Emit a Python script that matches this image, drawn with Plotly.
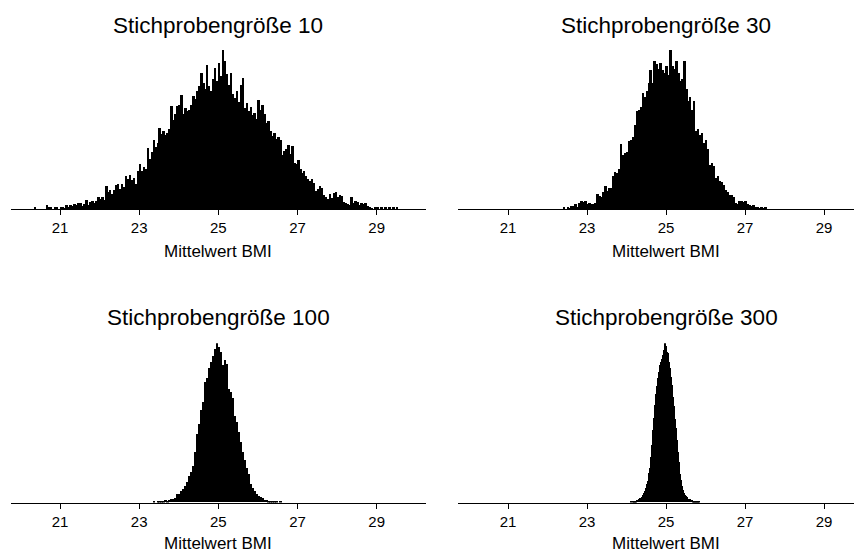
import numpy as np
import plotly.graph_objects as go

# ---------------- data (counts, arbitrary units) ----------------
titles = ["Stichprobengröße 10", "Stichprobengröße 30", "Stichprobengröße 100", "Stichprobengröße 300"]
x_label = "Mittelwert BMI"
tick_vals = [21, 23, 25, 27, 29]

# n = 10 : bins of 0.05 starting at 20.30
n10_start, n10_width = 20.30, 0.05
n10_counts = [
    0, 2, 0, 0, 0, 0, 0, 4, 2, 2,
    0, 2, 2, 0, 2, 2, 1, 4, 2, 4,
    3, 5, 4, 6, 6, 3, 5, 9, 4, 7,
    8, 6, 8, 12, 10, 12, 9, 23, 17, 19,
    15, 19, 24, 25, 20, 25, 22, 33, 30, 34,
    29, 31, 25, 38, 45, 38, 42, 40, 61, 50,
    57, 69, 62, 66, 81, 75, 78, 74, 76, 80,
    103, 89, 95, 103, 104, 114, 95, 101, 98, 99,
    104, 113, 110, 118, 123, 136, 126, 120, 144, 123,
    118, 130, 141, 128, 146, 133, 159, 148, 135, 124,
    136, 115, 111, 118, 107, 124, 131, 101, 106, 98,
    102, 94, 96, 90, 109, 99, 104, 95, 86, 88,
    78, 73, 76, 70, 72, 69, 54, 58, 60, 64,
    55, 63, 46, 45, 49, 40, 36, 38, 33, 30,
    28, 30, 26, 18, 20, 23, 21, 14, 12, 10,
    15, 11, 16, 17, 12, 14, 13, 7, 6, 5,
    4, 12, 6, 8, 7, 4, 6, 5, 6, 3,
    2, 1, 0, 2, 2, 0, 2, 0, 2, 0,
    2, 0, 2, 0, 2, 0,
]

# n = 30 : bins of 0.05 starting at 22.40
n30_start, n30_width = 22.40, 0.05
n30_counts = [
    2, 0, 2, 1, 3, 3, 5, 2, 6, 8,
    7, 8, 5, 6, 5, 5, 6, 15, 13, 12,
    17, 23, 18, 21, 21, 33, 37, 36, 40, 65,
    54, 56, 57, 68, 69, 72, 84, 98, 99, 102,
    116, 112, 118, 126, 139, 126, 148, 145, 140, 146,
    139, 136, 143, 134, 159, 143, 140, 148, 136, 128,
    130, 148, 120, 108, 112, 99, 108, 78, 80, 74,
    76, 66, 69, 60, 44, 46, 43, 31, 33, 28,
    27, 24, 19, 17, 14, 14, 12, 6, 5, 8,
    8, 7, 8, 5, 4, 3, 4, 2, 2, 1,
    2, 1, 2,
]

# n = 100 : bins of 0.05 starting at 23.35
n100_start, n100_width = 23.35, 0.05
n100_counts = [
    1, 0, 1, 1, 1, 1, 2, 1, 2, 3,
    3, 4, 8, 8, 11, 13, 16, 20, 26, 30,
    36, 50, 68, 78, 92, 100, 120, 124, 134, 140,
    146, 153, 159, 155, 150, 137, 142, 138, 113, 110,
    104, 86, 80, 70, 60, 50, 42, 34, 28, 18,
    14, 11, 8, 6, 5, 4, 2, 2, 1, 1,
    1, 1, 1, 0, 1,
]

# n = 300 : bins of 0.025 starting at 24.10
n300_start, n300_width = 24.10, 0.025
n300_counts = [
    1, 0, 1, 1, 1, 1, 2, 2, 3, 4,
    4, 5, 7, 9, 11, 14, 18, 21, 24, 29,
    34, 45, 57, 72, 84, 97, 108, 116, 124, 130,
    137, 140, 143, 147, 152, 159, 156, 150, 149, 140,
    134, 125, 117, 105, 96, 83, 74, 62, 50, 40,
    28, 22, 16, 12, 9, 7, 6, 5, 3, 3,
    3, 2, 2, 1, 1, 1, 1, 1, 1, 1,
]

panels = [
    (n10_start, n10_width, n10_counts),
    (n30_start, n30_width, n30_counts),
    (n100_start, n100_width, n100_counts),
    (n300_start, n300_width, n300_counts),
]

# ---------------- layout geometry ----------------
# the page adds an 8px body margin, so the figure is drawn 8px smaller
W, H = 854, 548
FONT = "Liberation Sans, Arial, sans-serif"

x_domains = [[3 / W, 418 / W], [450.3 / W, 1.0], [3 / W, 418 / W], [450.3 / W, 1.0]]
x_ranges = [[19.762, 30.245], [19.74, 29.96], [19.762, 30.245], [19.74, 29.96]]
y_domains = [
    [1 - 201 / H, 1 - 42 / H],
    [1 - 201 / H, 1 - 42 / H],
    [1 - 494.5 / H, 1 - 335.3 / H],
    [1 - 494.5 / H, 1 - 335.3 / H],
]
title_y = [17.5, 17.5, 309.5, 309.5]
xlab_y = [243.5, 243.5, 535.0, 535.0]

fig = go.Figure()
layout = dict(
    width=W, height=H,
    margin=dict(l=0, r=0, t=0, b=0),
    paper_bgcolor="white", plot_bgcolor="white",
    showlegend=False, bargap=0,
    font=dict(family=FONT, color="black"),
)
annotations = []
for i, (start, width, counts) in enumerate(panels):
    k = "" if i == 0 else str(i + 1)
    centers = start + width * (np.arange(len(counts)) + 0.5)
    fig.add_trace(go.Bar(
        x=centers, y=counts, width=width,
        marker=dict(color="black", line=dict(width=0)),
        xaxis="x" + k, yaxis="y" + k, hoverinfo="skip",
    ))
    layout["xaxis" + k] = dict(
        domain=x_domains[i], range=x_ranges[i], anchor="y" + k,
        showgrid=False, zeroline=False,
        showline=True, linecolor="black", linewidth=1,
        ticks="outside", ticklen=5, tickwidth=1, tickcolor="black",
        tickvals=tick_vals, ticktext=[str(t) for t in tick_vals],
        tickfont=dict(family=FONT, size=15, color="black"),
    )
    layout["yaxis" + k] = dict(
        domain=y_domains[i], range=[0, 159], anchor="x" + k,
        visible=False, showgrid=False, zeroline=False,
    )
    annotations.append(dict(
        text=titles[i], xref="x" + k, x=25, yref="paper", y=1 - title_y[i] / H,
        xanchor="center", yanchor="middle", showarrow=False,
        font=dict(family=FONT, size=22.5, color="black"),
    ))
    annotations.append(dict(
        text=x_label, xref="x" + k, x=25, yref="paper", y=1 - xlab_y[i] / H,
        xanchor="center", yanchor="middle", showarrow=False,
        font=dict(family=FONT, size=17, color="black"),
    ))
layout["annotations"] = annotations
fig.update_layout(**layout)
fig.write_html("out.html")
